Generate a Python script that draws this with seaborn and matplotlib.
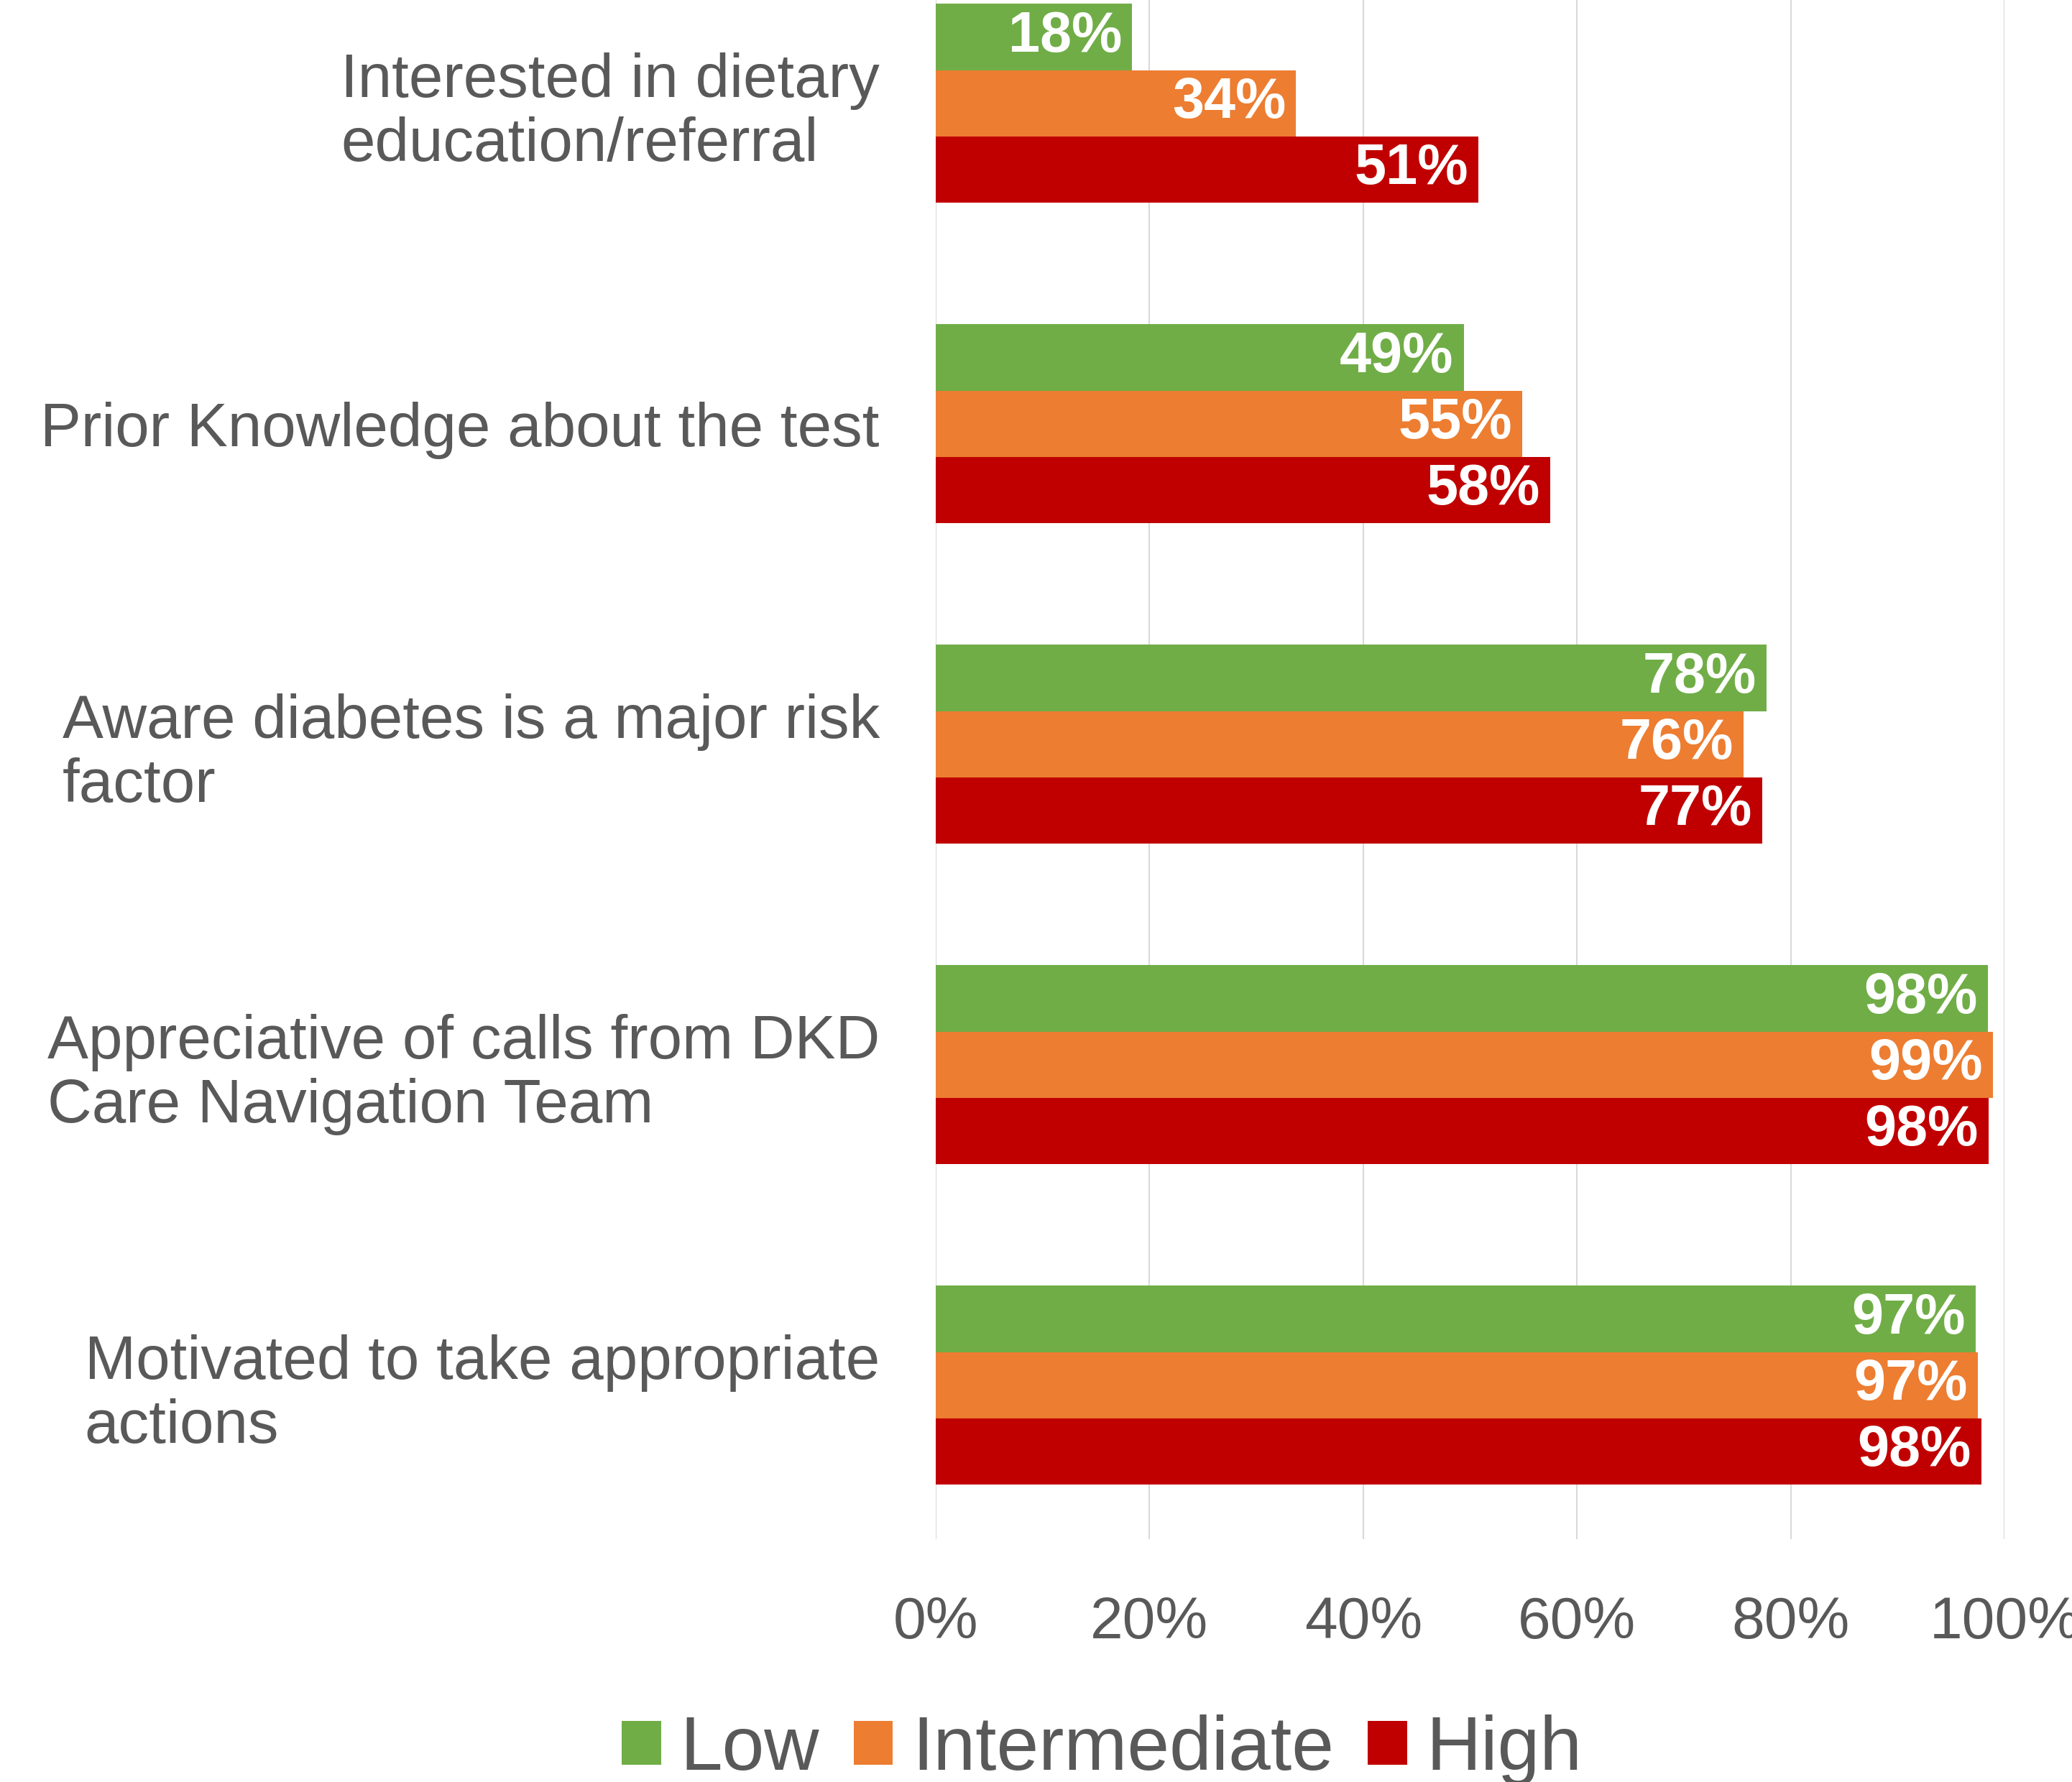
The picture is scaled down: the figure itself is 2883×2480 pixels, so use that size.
import matplotlib
matplotlib.use("Agg")
import matplotlib.pyplot as plt
import seaborn as sns
import pandas as pd
from matplotlib.patches import Patch

categories = [
    "Interested in dietary\neducation/referral",
    "Prior Knowledge about the test",
    "Aware diabetes is a major risk\nfactor",
    "Appreciative of calls from DKD\nCare Navigation Team",
    "Motivated to take appropriate\nactions",
]
levels = ["Low", "Intermediate", "High"]
low_vals = [18.4, 49.4, 77.7, 98.4, 97.3]
inter_vals = [33.7, 54.9, 75.6, 98.9, 97.5]
high_vals = [50.8, 57.5, 77.3, 98.5, 97.8]
low_labels = ["18%", "49%", "78%", "98%", "97%"]
inter_labels = ["34%", "55%", "76%", "99%", "97%"]
high_labels = ["51%", "58%", "77%", "98%", "98%"]
xticks = [0, 20, 40, 60, 80, 100]
xtick_labels = ["0%", "20%", "40%", "60%", "80%", "100%"]
colors = ["#70AD47", "#ED7D31", "#C00000"]

rows = []
for lvl, vals in zip(levels, [low_vals, inter_vals, high_vals]):
    for c, v in zip(categories, vals):
        rows.append({"category": c, "level": lvl, "value": v})
df = pd.DataFrame(rows)

sns.set_theme(style="white")
plt.rcParams["font.family"] = ["Liberation Sans", "DejaVu Sans"]

fig = plt.figure(figsize=(28.83, 24.8), dpi=100)
ax = fig.add_axes([0.4515, 0.1364, 0.516, 0.892])

sns.barplot(data=df, y="category", x="value", hue="level", orient="h",
            order=categories, hue_order=levels, palette=colors,
            width=0.62, saturation=1, ax=ax, legend=False, linewidth=0)

ax.set_xlim(0, 100)
ax.set_ylim(4.48, -0.48)
ax.set_xticks(xticks)
ax.set_xticklabels(xtick_labels, fontsize=59, color="#595959")
ax.tick_params(axis="x", length=0, pad=57)
ax.tick_params(axis="y", length=0, pad=56)
for t in ax.get_yticklabels():
    t.set_fontsize(61.5)
    t.set_color("#595959")
    t.set_ha("right")
    t.set_multialignment("left")
    t.set_linespacing(1.15)
ax.set_xlabel("")
ax.set_ylabel("")
ax.grid(axis="x", color="#D9D9D9", linewidth=1.5)
ax.set_axisbelow(True)
for s in ax.spines.values():
    s.set_visible(False)

for container, labs in zip(ax.containers, [low_labels, inter_labels, high_labels]):
    for bar, lab in zip(container, labs):
        ax.annotate(lab, xy=(bar.get_width(), bar.get_y() + bar.get_height() / 2),
                    xytext=(-10, 0), textcoords="offset points",
                    ha="right", va="center", fontsize=57, fontweight="bold",
                    color="white")

handles = [Patch(facecolor=c, edgecolor="none") for c in colors]
fig.legend(handles, levels, loc="center", bbox_to_anchor=(834 / 1568, 0.018),
           ncol=3, frameon=False, fontsize=76, labelcolor="#595959",
           handlelength=0.52, handleheight=0.52, handletextpad=0.25,
           columnspacing=0.45)

fig.savefig("out.png", dpi=100)
